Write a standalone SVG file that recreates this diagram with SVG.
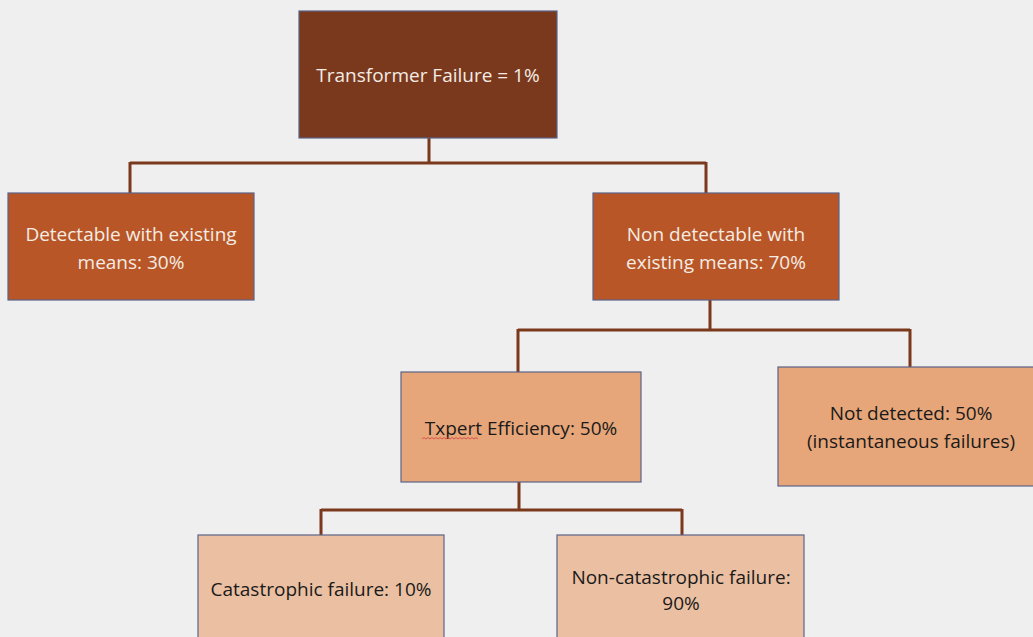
<svg xmlns="http://www.w3.org/2000/svg" width="1033" height="637" viewBox="0 0 1033 637">
<style>
.box{stroke:#5b6388;stroke-width:1.2}
.l1{fill:#7a391d}
.l2{fill:#b85627}
.l3{fill:#e7a679}
.l4{fill:#ebc0a2}
.tl{font-family:"Open Sans","Liberation Sans",sans-serif;font-size:19px;fill:#f4ece4;text-anchor:middle}
.td{font-family:"Open Sans","Liberation Sans",sans-serif;font-size:19px;fill:#1a1a1a;text-anchor:middle}
.c{fill:none;stroke:#7a391d;stroke-width:3}
</style>
<rect width="1033" height="637" fill="#efefef"/>
<g id="connectors">
<path class="c" d="M429,138 V163 M130,163 H706 M130,162 V193 M706,162 V193"/>
<path class="c" d="M710,300 V330 M518,330 H910 M518,329 V372 M910,329 V367"/>
<path class="c" d="M519,482 V510 M321,510 H682 M321,509 V535 M682,509 V535"/>
</g>
<g id="root">
<rect class="box l1" x="299" y="11" width="258" height="127"/>
<text class="tl" x="428" y="82">Transformer Failure = 1%</text>
</g>
<g id="detectable">
<rect class="box l2" x="8" y="193" width="246" height="107"/>
<text class="tl" x="131" y="241">Detectable with existing</text>
<text class="tl" x="131" y="269">means: 30%</text>
</g>
<g id="nondetectable">
<rect class="box l2" x="593" y="193" width="246" height="107"/>
<text class="tl" x="716" y="241">Non detectable with</text>
<text class="tl" x="716" y="269">existing means: 70%</text>
</g>
<g id="txpert">
<rect class="box l3" x="401" y="372" width="240" height="110"/>
<text class="td" x="521" y="435">Txpert Efficiency: 50%</text>
<path d="M422,439 l2,-1.5 l2,1.5 l2,-1.5 l2,1.5 l2,-1.5 l2,1.5 l2,-1.5 l2,1.5 l2,-1.5 l2,1.5 l2,-1.5 l2,1.5 l2,-1.5 l2,1.5 l2,-1.5 l2,1.5 l2,-1.5 l2,1.5 l2,-1.5 l2,1.5 l2,-1.5 l2,1.5 l2,-1.5 l2,1.5 l2,-1.5 l2,1.5 l2,-1.5 l2,1.5" fill="none" stroke="#d04040" stroke-width="0.8"/>
</g>
<g id="notdetected">
<rect class="box l3" x="778" y="367" width="262" height="119"/>
<text class="td" x="911" y="420">Not detected: 50%</text>
<text class="td" x="911" y="448">(instantaneous failures)</text>
</g>
<g id="catastrophic">
<rect class="box l4" x="198" y="535" width="246" height="110"/>
<text class="td" x="321" y="596">Catastrophic failure: 10%</text>
</g>
<g id="noncatastrophic">
<rect class="box l4" x="557" y="535" width="247" height="110"/>
<text class="td" x="681" y="584">Non-catastrophic failure:</text>
<text class="td" x="681" y="610">90%</text>
</g>
</svg>
